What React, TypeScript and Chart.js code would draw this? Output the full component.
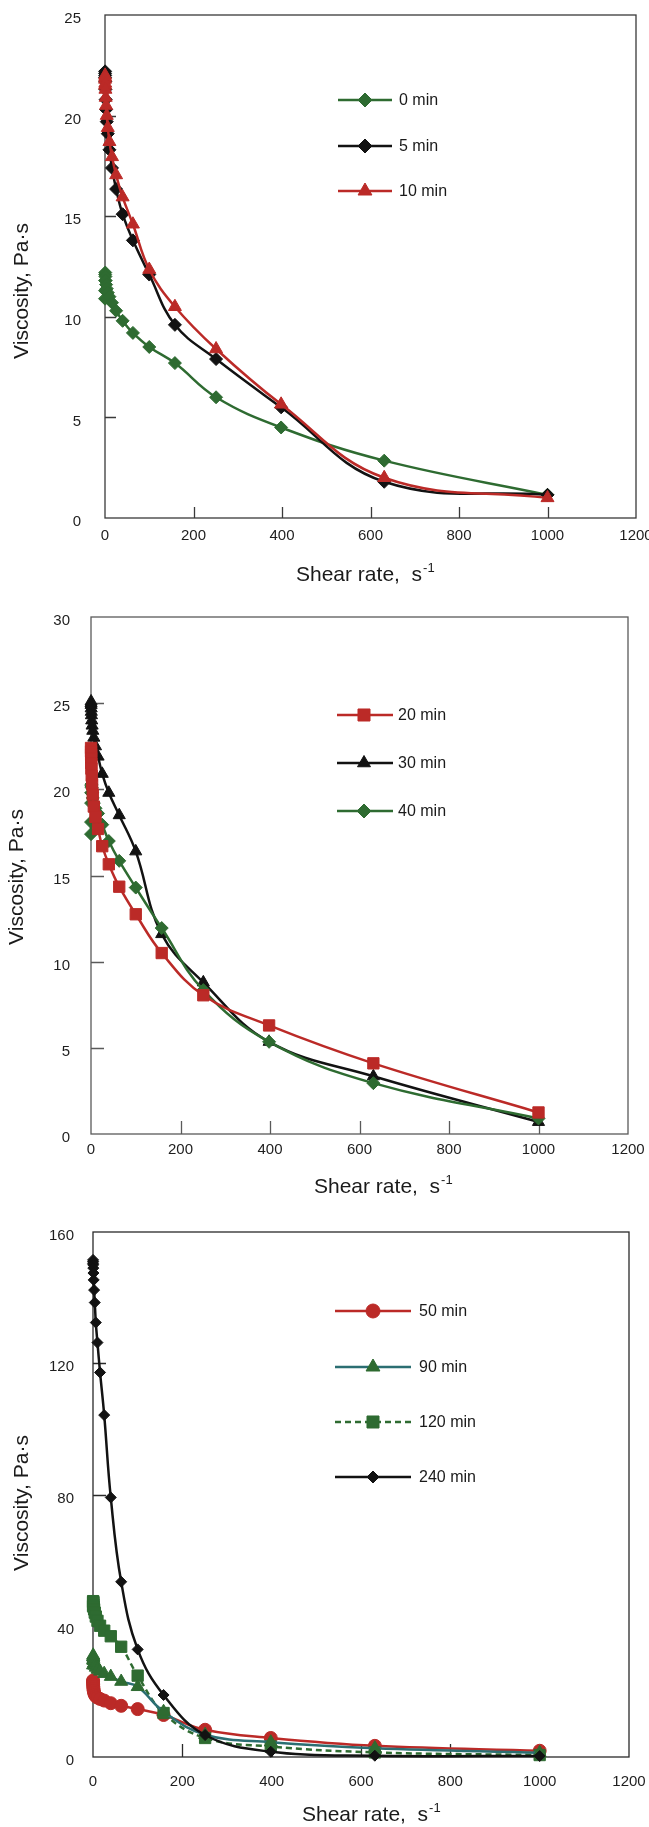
import React, { useEffect, useRef } from 'react';
import { Chart, registerables } from 'chart.js';

Chart.register(...registerables);

const FONT = "'Liberation Sans', Arial, Helvetica, sans-serif";

// Shear rate, 1/s (common to all runs)
const shearRate = [0.1, 0.158, 0.251, 0.398, 0.631, 1, 1.58, 2.51, 3.98, 6.31, 10, 15.8, 25.1, 39.8, 63.1, 100, 158, 251, 398, 631, 1000];

// Viscosity, Pa·s
const visc0min = [10.9, 11.3, 11.8, 12.1, 12.2, 12.0, 11.8, 11.6, 11.4, 11.2, 11.0, 10.7, 10.3, 9.8, 9.2, 8.5, 7.7, 6.0, 4.5, 2.85, 1.15];
const visc5min = [21.9, 22.1, 22.2, 22.0, 21.7, 21.3, 20.8, 20.3, 19.7, 19.1, 18.3, 17.4, 16.35, 15.1, 13.8, 12.1, 9.6, 7.9, 5.5, 1.8, 1.15];
const visc10min = [21.5, 21.8, 22.0, 21.9, 21.6, 21.3, 20.9, 20.5, 20.0, 19.4, 18.7, 17.95, 17.05, 15.95, 14.6, 12.35, 10.5, 8.4, 5.65, 2.0, 1.0];

const visc20min = [22.4, 22.2, 22.0, 21.8, 21.5, 21.2, 20.8, 20.3, 19.7, 19.0, 18.4, 17.7, 16.7, 15.65, 14.35, 12.75, 10.5, 8.05, 6.3, 4.1, 1.25];
const visc30min = [25.0, 25.1, 24.9, 24.7, 24.5, 24.3, 24.0, 23.7, 23.4, 23.0, 22.5, 21.9, 20.9, 19.8, 18.5, 16.4, 11.6, 8.8, 5.35, 3.35, 0.7];
const visc40min = [17.4, 18.1, 19.2, 19.8, 20.2, 20.3, 20.1, 19.8, 19.5, 19.2, 18.9, 18.6, 17.95, 17.0, 15.85, 14.3, 11.95, 8.35, 5.35, 2.95, 0.9];

const visc50min = [23.3, 23.0, 22.5, 22.0, 21.4, 20.8, 20.2, 19.6, 19.0, 18.5, 18.1, 17.7, 17.2, 16.4, 15.6, 14.6, 12.8, 8.3, 5.8, 3.4, 1.9];
const visc90min = [28.0, 29.5, 30.5, 31.0, 30.6, 30.0, 29.3, 28.6, 27.9, 27.3, 26.7, 26.1, 25.4, 24.5, 23.0, 21.4, 13.8, 6.8, 4.5, 2.7, 1.3];
const visc120min = [46.0, 47.2, 47.5, 47.3, 47.0, 46.4, 45.7, 45.0, 44.0, 42.8, 41.5, 40.0, 38.5, 36.8, 33.6, 24.8, 13.4, 5.8, 3.2, 1.4, 0.6];
const visc240min = [150.5, 151.5, 151.0, 150.0, 149.0, 147.5, 145.4, 142.3, 138.5, 132.4, 126.3, 117.2, 104.2, 79.1, 53.4, 32.8, 18.9, 6.7, 1.6, 0.4, 0.3];

const xAxisMax = 1200;
const xAxisStep = 200;
const yAxisMax = [25, 30, 160];
const yAxisStep = [5, 5, 40];

const GREEN = '#2e6b31';
const RED = '#bb2a27';
const BLACK = '#121212';
const TEAL = '#2b6e72';

type Series = {
  label: string;
  data: number[];
  line: string;
  marker: string;
  style: string;
  radius: number;
  dash?: number[];
  order: number;
};

type PanelCfg = {
  key: string;
  top: number;
  height: number;
  plotLeft: number;
  plotRight: number;
  plotTop: number;
  plotBottom: number;
  yMax: number;
  yStep: number;
  series: Series[];
  xTickPad: number;
  yTickPad: number;
  frameColor: string;
  tickLen: number;
  xTitle: { x: number; y: number };
  yTitle: { x: number; y: number };
  legend: { x1: number; x2: number; mx: number; tx: number; ys: number[] };
};

function drawMarker(ctx: CanvasRenderingContext2D, style: string, x: number, y: number, r: number, color: string) {
  ctx.save();
  ctx.fillStyle = color;
  ctx.strokeStyle = color;
  ctx.lineWidth = 1;
  ctx.setLineDash([]);
  ctx.beginPath();
  if (style === 'rectRot') {
    ctx.moveTo(x, y - r);
    ctx.lineTo(x + r, y);
    ctx.lineTo(x, y + r);
    ctx.lineTo(x - r, y);
    ctx.closePath();
  } else if (style === 'triangle') {
    ctx.moveTo(x, y - r);
    ctx.lineTo(x + 0.866 * r, y + 0.5 * r);
    ctx.lineTo(x - 0.866 * r, y + 0.5 * r);
    ctx.closePath();
  } else if (style === 'rect') {
    const s = Math.SQRT1_2 * r;
    ctx.rect(x - s, y - s, 2 * s, 2 * s);
  } else {
    ctx.arc(x, y, r, 0, Math.PI * 2);
  }
  ctx.fill();
  ctx.stroke();
  ctx.restore();
}

function decorPlugin(cfg: PanelCfg) {
  return {
    id: 'decor_' + cfg.key,
    beforeDatasetsDraw(chart: any) {
      const { ctx, chartArea: a, scales } = chart;
      const xs = scales.x;
      const ys = scales.y;
      ctx.save();
      ctx.strokeStyle = cfg.frameColor;
      ctx.lineWidth = 1.3;
      ctx.beginPath();
      xs.ticks.forEach((t: any) => {
        if (t.value <= xs.min || t.value >= xs.max) return;
        const px = Math.round(xs.getPixelForValue(t.value)) + 0.5;
        ctx.moveTo(px, a.bottom);
        ctx.lineTo(px, a.bottom - cfg.tickLen);
      });
      ys.ticks.forEach((t: any) => {
        if (t.value <= ys.min || t.value >= ys.max) return;
        const py = Math.round(ys.getPixelForValue(t.value)) + 0.5;
        ctx.moveTo(a.left, py);
        ctx.lineTo(a.left + cfg.tickLen, py);
      });
      ctx.stroke();
      ctx.strokeRect(a.left, a.top, a.right - a.left, a.bottom - a.top);
      ctx.restore();
    },
    afterDraw(chart: any) {
      const ctx: CanvasRenderingContext2D = chart.ctx;
      const off = cfg.top;
      ctx.save();
      ctx.fillStyle = '#1a1a1a';
      // x title with superscript
      ctx.font = `21px ${FONT}`;
      ctx.textAlign = 'left';
      ctx.textBaseline = 'middle';
      const main = 'Shear rate,  s';
      ctx.fillText(main, cfg.xTitle.x, cfg.xTitle.y - off);
      const w = ctx.measureText(main).width;
      ctx.font = `13px ${FONT}`;
      ctx.fillText('-1', cfg.xTitle.x + w + 1, cfg.xTitle.y - off - 7);
      // y title
      ctx.font = `21px ${FONT}`;
      ctx.translate(cfg.yTitle.x, cfg.yTitle.y - off);
      ctx.rotate(-Math.PI / 2);
      ctx.textAlign = 'center';
      ctx.fillText('Viscosity, Pa·s', 0, 0);
      ctx.restore();

      // legend
      ctx.save();
      cfg.series.forEach((s, i) => {
        const y = cfg.legend.ys[i] - off;
        ctx.strokeStyle = s.line;
        ctx.lineWidth = 2.5;
        ctx.setLineDash(s.dash || []);
        ctx.beginPath();
        ctx.moveTo(cfg.legend.x1, y);
        ctx.lineTo(cfg.legend.x2, y);
        ctx.stroke();
        drawMarker(ctx, s.style, cfg.legend.mx, y, s.radius + 0.5, s.marker);
        ctx.fillStyle = '#1a1a1a';
        ctx.font = `16px ${FONT}`;
        ctx.textAlign = 'left';
        ctx.textBaseline = 'middle';
        ctx.fillText(s.label, cfg.legend.tx, y + 1);
      });
      ctx.restore();
    },
  };
}

const panels: PanelCfg[] = [
  {
    key: 'a',
    top: 0,
    height: 600,
    plotLeft: 105,
    plotRight: 636,
    plotTop: 15,
    plotBottom: 518,
    yMax: yAxisMax[0],
    yStep: yAxisStep[0],
    xTickPad: 9,
    yTickPad: 24,
    frameColor: '#3a3a3a',
    tickLen: 11,
    xTitle: { x: 296, y: 575 },
    yTitle: { x: 22, y: 291 },
    legend: { x1: 338, x2: 392, mx: 365, tx: 399, ys: [100, 146, 191] },
    series: [
      { label: '0 min', data: visc0min, line: GREEN, marker: GREEN, style: 'rectRot', radius: 6.5, order: 2 },
      { label: '5 min', data: visc5min, line: BLACK, marker: BLACK, style: 'rectRot', radius: 6.5, order: 1 },
      { label: '10 min', data: visc10min, line: RED, marker: RED, style: 'triangle', radius: 7.5, order: 0 },
    ],
  },
  {
    key: 'b',
    top: 600,
    height: 610,
    plotLeft: 91,
    plotRight: 628,
    plotTop: 617,
    plotBottom: 1134,
    yMax: yAxisMax[1],
    yStep: yAxisStep[1],
    xTickPad: 7,
    yTickPad: 21,
    frameColor: '#5a5a5a',
    tickLen: 13,
    xTitle: { x: 314, y: 1187 },
    yTitle: { x: 17, y: 877 },
    legend: { x1: 337, x2: 393, mx: 364, tx: 398, ys: [715, 763, 811] },
    series: [
      { label: '20 min', data: visc20min, line: RED, marker: RED, style: 'rect', radius: 8, order: 0 },
      { label: '30 min', data: visc30min, line: BLACK, marker: BLACK, style: 'triangle', radius: 7, order: 2 },
      { label: '40 min', data: visc40min, line: GREEN, marker: GREEN, style: 'rectRot', radius: 6.5, order: 1 },
    ],
  },
  {
    key: 'c',
    top: 1210,
    height: 617,
    plotLeft: 93,
    plotRight: 629,
    plotTop: 1232,
    plotBottom: 1757,
    yMax: yAxisMax[2],
    yStep: yAxisStep[2],
    xTickPad: 16,
    yTickPad: 19,
    frameColor: '#2a2a2a',
    tickLen: 13,
    xTitle: { x: 302, y: 1815 },
    yTitle: { x: 22, y: 1503 },
    legend: { x1: 335, x2: 411, mx: 373, tx: 419, ys: [1311, 1367, 1422, 1477] },
    series: [
      { label: '50 min', data: visc50min, line: RED, marker: RED, style: 'circle', radius: 6.5, order: 3 },
      { label: '90 min', data: visc90min, line: TEAL, marker: GREEN, style: 'triangle', radius: 7.5, order: 1 },
      { label: '120 min', data: visc120min, line: GREEN, marker: GREEN, style: 'rect', radius: 8, dash: [6, 4], order: 2 },
      { label: '240 min', data: visc240min, line: BLACK, marker: BLACK, style: 'rectRot', radius: 5.5, order: 0 },
    ],
  },
];

function Panel({ cfg }: { cfg: PanelCfg }) {
  const ref = useRef<HTMLCanvasElement | null>(null);
  useEffect(() => {
    if (!ref.current) return;
    const xH = cfg.top + cfg.height - cfg.plotBottom;
    const yW = cfg.plotLeft;
    const chart = new Chart(ref.current, {
      type: 'scatter',
      data: {
        datasets: cfg.series.map((s) => ({
          label: s.label,
          data: shearRate.map((x, i) => ({ x, y: s.data[i] })),
          showLine: true,
          borderColor: s.line,
          backgroundColor: s.marker,
          pointBackgroundColor: s.marker,
          pointBorderColor: s.marker,
          pointStyle: s.style as any,
          pointRadius: s.radius,
          pointBorderWidth: 1,
          borderWidth: 2.5,
          borderDash: s.dash || [],
          tension: 0.4,
          clip: false as any,
          order: s.order,
        })),
      },
      options: {
        animation: false,
        responsive: false,
        devicePixelRatio: 1,
        layout: {
          padding: { top: cfg.plotTop - cfg.top, right: 649 - cfg.plotRight, left: 0, bottom: 0 },
        },
        plugins: {
          legend: { display: false },
          tooltip: { enabled: false },
          title: { display: false },
        },
        scales: {
          x: {
            type: 'linear',
            min: 0,
            max: xAxisMax,
            ticks: {
              stepSize: xAxisStep,
              padding: cfg.xTickPad,
              color: '#1e1e1e',
              font: { size: 15, family: FONT },
              maxRotation: 0,
              autoSkip: false,
              callback: (v: any) => String(v),
            },
            grid: { display: false, drawTicks: false },
            border: { display: false },
            afterFit: (s: any) => {
              s.height = xH;
              s.paddingLeft = 0;
              s.paddingRight = 0;
            },
          },
          y: {
            type: 'linear',
            min: 0,
            max: cfg.yMax,
            ticks: {
              stepSize: cfg.yStep,
              padding: cfg.yTickPad,
              labelOffset: 4,
              color: '#1e1e1e',
              font: { size: 15, family: FONT },
              callback: (v: any) => String(v),
            },
            grid: { display: false, drawTicks: false },
            border: { display: false },
            afterFit: (s: any) => {
              s.width = yW;
              s.paddingTop = 0;
              s.paddingBottom = 0;
            },
          },
        },
      },
      plugins: [decorPlugin(cfg) as any],
    } as any);
    return () => chart.destroy();
  }, [cfg]);
  return (
    <canvas
      ref={ref}
      width={649}
      height={cfg.height}
      style={{ position: 'absolute', left: 0, top: cfg.top, width: 649, height: cfg.height }}
    />
  );
}

export default function App() {
  return (
    <div style={{ position: 'absolute', left: 0, top: 0, width: 649, height: 1827, background: '#ffffff' }}>
      {panels.map((p) => (
        <Panel key={p.key} cfg={p} />
      ))}
    </div>
  );
}
